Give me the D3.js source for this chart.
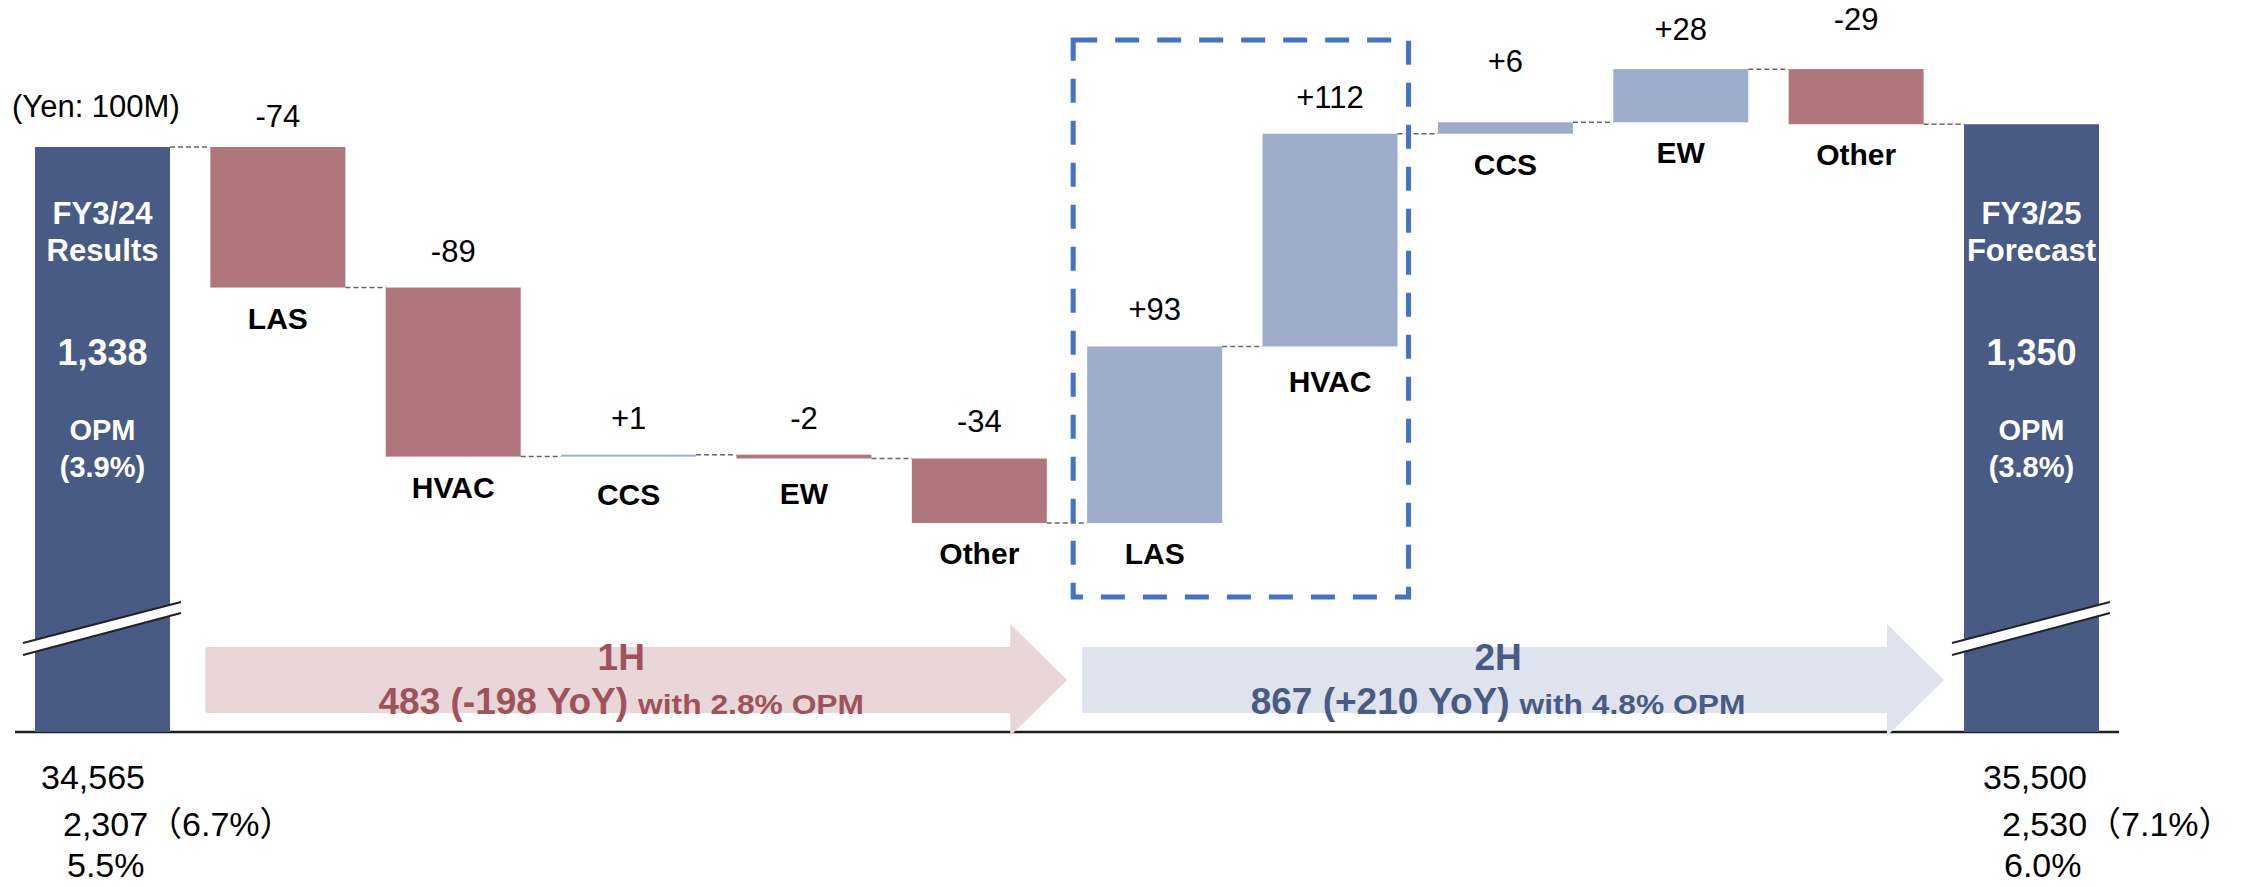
<!DOCTYPE html>
<html><head><meta charset="utf-8">
<script src="https://cdn.jsdelivr.net/npm/d3@7"></script>
<style>
html,body{margin:0;padding:0;background:#fff;}
svg{display:block;}
text{font-family:'Liberation Sans',Arial,'Noto Sans CJK JP',sans-serif;}
</style>
</head><body>
<svg id="chart" width="2258" height="887"></svg>
<script>
// ---------------- data ----------------
const unitLabel = "(Yen: 100M)";
const categories = ["LAS","HVAC","CCS","EW","Other","LAS","HVAC","CCS","EW","Other"];
const halves     = ["1H","1H","1H","1H","1H","2H","2H","2H","2H","2H"];
const deltas     = [-74,-89,1,-2,-34,93,112,6,28,-29];
const startTotal = 1338;
const totalNames = [["FY3/24","Results"],["FY3/25","Forecast"]];
const totalOPM   = ["(3.9%)","(3.8%)"];
const totalSales = ["34,565","35,500"];
const totalFullOP  = ["2,307（6.7%）","2,530（7.1%）"];
const totalFullOPM = ["5.5%","6.0%"];
const halfNames  = ["1H","2H"];
const halfValues = [483, 867];
const halfOPM    = ["2.8%","4.8%"];

// ---------------- layout / style ----------------
const W = 2258, H = 887;
const axisY = 732;
const col = {neg:"#B0767C", pos:"#9DACCA", total:"#475B84",
  arrow1:"#E8D6D9", arrow1Text:"#A0525B", arrow2:"#DFE3EE", arrow2Text:"#475B84",
  box:"#4472C4", conn:"#666666"};
const valueNudge = {0:6, 7:-24, 8:-3, 9:-13};
const catNudge = {2:7, 3:5, 6:5};
const bottomDx = [[6,28,32],[19,38,40]];

const svg = d3.select("#chart");
const fmt = d3.format(",");

// running totals
const endTotal = startTotal + d3.sum(deltas);
let run = startTotal;
const steps = deltas.map((d,i) => { const s = run; run += d; return {i, cat:categories[i], half:halves[i], d, from:s, to:run}; });

const ids = ["start", ...categories.map((c,i)=>halves[i]+"-"+c), "end"];
const x = d3.scaleBand().domain(ids).range([35, 2099]).paddingInner(0.2302).paddingOuter(0);
const bw = x.bandwidth();
const y = d3.scaleLinear().domain([1030, startTotal]).range([axisY, 147]);

// ---------------- axis line ----------------
svg.append("line").attr("x1",15).attr("x2",2119).attr("y1",axisY).attr("y2",axisY)
  .attr("stroke","#1e1e1e").attr("stroke-width",2.5);

// ---------------- half arrows ----------------
halfNames.forEach((h,hi) => {
  const idx = steps.filter(s=>s.half===h).map(s=>s.i);
  const firstId = ids[idx[0]+1];
  const nextId = ids[idx[idx.length-1]+2];
  const L = x(firstId) - 5, T = x(nextId) - 20;
  const cy = axisY - 52, bh = 33, hh = 56, hl = 57;
  const pts = [[L,cy-bh],[T-hl,cy-bh],[T-hl,cy-hh],[T,cy],[T-hl,cy+hh],[T-hl,cy+bh],[L,cy+bh]];
  const fill = hi===0 ? col.arrow1 : col.arrow2;
  const tc = hi===0 ? col.arrow1Text : col.arrow2Text;
  svg.append("polygon").attr("points", pts.map(p=>p.join(",")).join(" ")).attr("fill", fill);
  const cx = (L+T)/2 - 15;
  svg.append("text").attr("x",cx).attr("y",cy-10).attr("text-anchor","middle")
    .attr("font-size",37).attr("font-weight","bold").attr("fill",tc).text(h);
  const yoy = d3.sum(idx.map(i=>deltas[i]));
  const main = `${halfValues[hi]} (${yoy>0?"+":""}${yoy} YoY)`;
  const t1 = svg.append("text").attr("y",cy+34).attr("font-size",37).attr("font-weight","bold").attr("fill",tc).text(main);
  const w1 = t1.node().getComputedTextLength();
  const subW = 226, gap = 10;
  const start = cx - (w1+gap+subW)/2;
  t1.attr("x", start);
  svg.append("text").attr("x", start+w1+gap).attr("y",cy+34).attr("font-size",27).attr("font-weight","bold")
    .attr("fill",tc).attr("textLength",subW).attr("lengthAdjust","spacingAndGlyphs")
    .text(`with ${halfOPM[hi]} OPM`);
});

// ---------------- total bars ----------------
const totals = [{id:"start", v:startTotal}, {id:"end", v:endTotal}];
totals.forEach((t,ti) => {
  const bx = x(t.id);
  svg.append("rect").attr("x",bx).attr("y",y(t.v)).attr("width",bw).attr("height",axisY - y(t.v)).attr("fill",col.total);
  // break mark
  const x1 = bx - 12, x2 = bx + bw + 11;
  svg.append("polygon").attr("points",`${x1},${axisY-89} ${x2},${axisY-130} ${x2},${axisY-119} ${x1},${axisY-77}`).attr("fill","#fff");
  svg.append("line").attr("x1",x1).attr("y1",axisY-89).attr("x2",x2).attr("y2",axisY-130).attr("stroke","#222").attr("stroke-width",2);
  svg.append("line").attr("x1",x1).attr("y1",axisY-77).attr("x2",x2).attr("y2",axisY-119).attr("stroke","#222").attr("stroke-width",2);
  const cx = bx + bw/2;
  const lines = [
    {t:totalNames[ti][0], y:224, s:31},
    {t:totalNames[ti][1], y:261, s:31},
    {t:fmt(t.v), y:365, s:36},
    {t:"OPM", y:440, s:29},
    {t:totalOPM[ti], y:477, s:29}];
  lines.forEach(l => svg.append("text").attr("x",cx).attr("y",l.y).attr("text-anchor","middle")
    .attr("font-size",l.s).attr("font-weight","bold").attr("fill","#fff").text(l.t));
  // bottom figures
  const bt = [totalSales[ti], totalFullOP[ti], totalFullOPM[ti]];
  const by = [789, 836, 877];
  bt.forEach((s,k) => svg.append("text").attr("x", bx + bottomDx[ti][k]).attr("y", by[k])
    .attr("font-size",34).attr("fill","#000").text(s));
});

// ---------------- delta bars ----------------
steps.forEach(s => {
  const id = ids[s.i+1];
  const top = y(Math.max(s.from,s.to)), bot = y(Math.min(s.from,s.to));
  svg.append("rect").attr("x",x(id)).attr("y",top).attr("width",bw).attr("height",Math.max(1,bot-top))
    .attr("fill", s.d<0 ? col.neg : col.pos);
  const cx = x(id)+bw/2;
  svg.append("text").attr("x",cx).attr("y",top - 26 + (valueNudge[s.i]||0)).attr("text-anchor","middle")
    .attr("font-size",31).attr("fill","#000").text((s.d>0?"+":"")+s.d);
  svg.append("text").attr("x",cx).attr("y",bot + 41 + (catNudge[s.i]||0)).attr("text-anchor","middle")
    .attr("font-size",30).attr("font-weight","bold").attr("fill","#000").text(s.cat);
});

// ---------------- connectors ----------------
const levels = [startTotal, ...steps.map(s=>s.to)];
levels.forEach((v,k) => {
  const a = ids[k], b = ids[k+1];
  svg.append("line").attr("x1",x(a)+bw).attr("x2",x(b)).attr("y1",y(v)).attr("y2",y(v))
    .attr("stroke",col.conn).attr("stroke-width",1.5).attr("stroke-dasharray","5,3");
});

// ---------------- dashed highlight box ----------------
const bx1 = x(ids[6]) - 14, bx2 = x(ids[7]) + bw + 11;
svg.append("rect").attr("x",bx1).attr("y",40).attr("width",bx2-bx1).attr("height",597-40)
  .attr("fill","none").attr("stroke",col.box).attr("stroke-width",5).attr("stroke-dasharray","24,18");

// ---------------- unit label ----------------
svg.append("text").attr("x",12).attr("y",117).attr("font-size",31).attr("fill","#000").text(unitLabel);
</script>
</body></html>
